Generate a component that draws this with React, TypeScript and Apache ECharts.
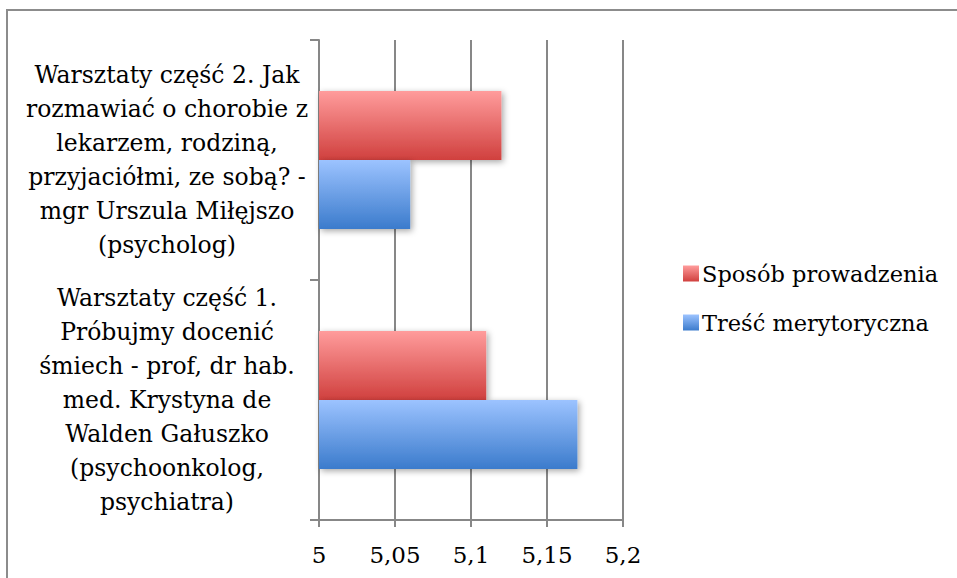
import React, { useEffect, useRef } from 'react';
import * as echarts from 'echarts';

const categories = [
  'Warsztaty część 1.\nPróbujmy docenić\nśmiech - prof, dr hab.\nmed. Krystyna de\nWalden Gałuszko\n(psychoonkolog,\npsychiatra)',
  'Warsztaty część 2. Jak\nrozmawiać o chorobie z\nlekarzem, rodziną,\nprzyjaciółmi, ze sobą? -\nmgr Urszula Miłęjszo\n(psycholog)',
];
const seriesNames = ['Sposób prowadzenia', 'Treść merytoryczna'];
const sposobValues = [5.11, 5.12];
const trescValues = [5.17, 5.06];
const xMin = 5;
const xMax = 5.2;
const xInterval = 0.05;

const FONT = 'DejaVu Serif';

export default function App() {
  const ref = useRef<HTMLDivElement>(null);
  useEffect(() => {
    if (!ref.current) return;
    const chart = echarts.init(ref.current, null, { renderer: 'svg' });
    const red = new echarts.graphic.LinearGradient(0, 0, 0, 1, [
      { offset: 0, color: '#ff9c9c' },
      { offset: 1, color: '#d0403e' },
    ]);
    const blue = new echarts.graphic.LinearGradient(0, 0, 0, 1, [
      { offset: 0, color: '#9cc3ff' },
      { offset: 1, color: '#3b7bcc' },
    ]);
    const shadow = {
      shadowBlur: 6,
      shadowOffsetX: 2,
      shadowOffsetY: 2,
      shadowColor: 'rgba(0,0,0,0.35)',
    };
    chart.setOption({
      animation: false,
      backgroundColor: '#ffffff',
      graphic: [
        {
          type: 'rect',
          shape: { x: 7, y: 10, width: 980, height: 600 },
          style: { fill: 'none', stroke: '#8c8c8c', lineWidth: 2 },
          silent: true,
        },
      ],
      grid: { left: 319, right: 334, top: 40, bottom: 58, containLabel: false },
      legend: {
        orient: 'vertical',
        left: 678,
        top: 257,
        itemWidth: 16,
        itemHeight: 16,
        itemGap: 26,
        icon: 'rect',
        data: [seriesNames[0], seriesNames[1]],
        textStyle: { fontFamily: FONT, fontSize: 22.5, color: '#000', padding: [0, 0, 0, -2] },
      },
      xAxis: {
        type: 'value',
        min: xMin,
        max: xMax,
        interval: xInterval,
        axisLine: { show: true, lineStyle: { color: '#878787', width: 2 } },
        axisTick: { show: true, length: 7, lineStyle: { color: '#878787', width: 2 } },
        splitLine: { show: true, lineStyle: { color: '#878787', width: 2 } },
        axisLabel: {
          fontFamily: FONT,
          fontSize: 23,
          color: '#000',
          margin: 23,
          formatter: (v: number) => String(Math.round(v * 100) / 100).replace('.', ','),
        },
      },
      yAxis: {
        type: 'category',
        data: categories,
        axisLine: { show: true, lineStyle: { color: '#878787', width: 2 } },
        axisTick: { show: true, length: 9, lineStyle: { color: '#878787', width: 2 } },
        splitLine: { show: false },
        axisLabel: {
          fontFamily: FONT,
          fontSize: 23.5,
          color: '#000',
          align: 'center',
          lineHeight: 34,
          margin: 152,
          padding: [11, 0, 0, 0],
        },
      },
      series: [
        {
          name: seriesNames[0],
          type: 'bar',
          data: sposobValues,
          barCategoryGap: '42.5%',
          barGap: '0%',
          itemStyle: { color: red, ...shadow },
        },
        {
          name: seriesNames[1],
          type: 'bar',
          data: trescValues,
          barCategoryGap: '42.5%',
          barGap: '0%',
          itemStyle: { color: blue, ...shadow },
        },
      ],
    });
    return () => chart.dispose();
  }, []);
  return (
    <div
      ref={ref}
      style={{ position: 'fixed', left: 0, top: 0, width: 957, height: 578 }}
    />
  );
}
